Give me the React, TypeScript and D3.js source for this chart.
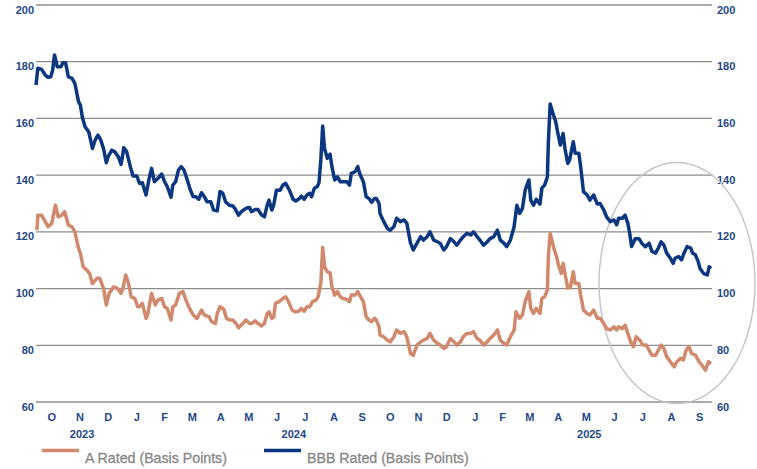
import React from "react";
import * as d3 from "d3";

const bbbSeries: [string, number][] = [
["2023-10-01",171.8],["2023-10-03",177.7],["2023-10-07",177.3],["2023-10-11",175.3],["2023-10-14",174.5],["2023-10-17",174.7],["2023-10-19",177.0],["2023-10-21",182.4],["2023-10-24",178.2],["2023-10-28",178.2],["2023-10-30",179.6],["2023-11-02",179.6],["2023-11-05",174.7],["2023-11-09",174.1],["2023-11-12",172.4],["2023-11-16",165.9],["2023-11-18",164.7],["2023-11-20",160.6],["2023-11-23",157.1],["2023-11-27",155.3],["2023-11-29",152.4],["2023-12-01",149.4],["2023-12-04",152.4],["2023-12-07",154.1],["2023-12-10",152.4],["2023-12-13",149.4],["2023-12-16",144.4],["2023-12-18",146.5],["2023-12-22",148.8],["2023-12-25",148.3],["2023-12-29",146.5],["2024-01-01",143.8],["2024-01-02",145.6],["2024-01-04",149.7],["2024-01-07",148.3],["2024-01-11",143.0],["2024-01-14",139.7],["2024-01-18",139.7],["2024-01-21",137.1],["2024-01-24",137.3],["2024-01-28",133.0],["2024-01-31",138.3],["2024-02-03",142.4],["2024-02-06",137.7],["2024-02-10",138.9],["2024-02-14",140.4],["2024-02-17",137.7],["2024-02-20",135.9],["2024-02-24",132.2],["2024-02-26",136.5],["2024-02-29",137.7],["2024-03-03",141.8],["2024-03-06",143.0],["2024-03-09",141.8],["2024-03-12",138.9],["2024-03-16",134.7],["2024-03-19",132.4],["2024-03-22",132.4],["2024-03-25",131.5],["2024-03-28",133.8],["2024-03-31",132.4],["2024-04-03",130.6],["2024-04-07",130.6],["2024-04-10",127.7],["2024-04-14",127.4],["2024-04-17",134.2],["2024-04-20",133.6],["2024-04-23",130.6],["2024-04-27",129.4],["2024-05-01",129.1],["2024-05-03",128.3],["2024-05-07",125.9],["2024-05-10",127.1],["2024-05-15",128.3],["2024-05-19",128.6],["2024-05-21",127.1],["2024-05-25",127.9],["2024-05-28",127.9],["2024-06-01",125.9],["2024-06-04",125.3],["2024-06-07",129.4],["2024-06-09",131.2],["2024-06-12",127.7],["2024-06-14",129.4],["2024-06-17",134.7],["2024-06-21",134.7],["2024-06-24",136.5],["2024-06-27",137.1],["2024-07-01",134.7],["2024-07-05",131.5],["2024-07-08",130.9],["2024-07-12",131.8],["2024-07-14",132.6],["2024-07-17",131.5],["2024-07-20",133.0],["2024-07-23",133.6],["2024-07-25",132.4],["2024-07-28",135.4],["2024-07-31",135.9],["2024-08-02",137.3],["2024-08-04",145.3],["2024-08-06",157.3],["2024-08-08",149.4],["2024-08-11",145.9],["2024-08-14",147.4],["2024-08-16",143.0],["2024-08-19",138.3],["2024-08-22",139.4],["2024-08-25",137.7],["2024-08-28",137.7],["2024-09-01",137.7],["2024-09-04",136.5],["2024-09-06",140.6],["2024-09-10",141.2],["2024-09-13",143.0],["2024-09-15",140.6],["2024-09-19",137.7],["2024-09-22",132.4],["2024-09-25",131.8],["2024-09-28",130.4],["2024-10-01",131.8],["2024-10-03",131.8],["2024-10-06",130.0],["2024-10-07",126.5],["2024-10-11",123.6],["2024-10-15",121.2],["2024-10-18",120.6],["2024-10-22",121.8],["2024-10-25",124.8],["2024-10-29",123.6],["2024-11-02",124.2],["2024-11-05",123.0],["2024-11-09",116.0],["2024-11-12",113.6],["2024-11-16",116.0],["2024-11-20",118.3],["2024-11-23",117.1],["2024-11-27",118.3],["2024-11-30",120.0],["2024-12-04",117.1],["2024-12-08",116.5],["2024-12-11",116.0],["2024-12-15",113.6],["2024-12-18",114.8],["2024-12-22",117.6],["2024-12-26",116.5],["2024-12-29",115.3],["2025-01-02",117.1],["2025-01-05",118.3],["2025-01-09",119.5],["2025-01-13",118.9],["2025-01-16",120.0],["2025-01-20",118.3],["2025-01-23",117.1],["2025-01-27",115.3],["2025-01-31",116.5],["2025-02-03",117.6],["2025-02-07",118.3],["2025-02-11",120.6],["2025-02-14",117.1],["2025-02-18",116.0],["2025-02-21",114.8],["2025-02-25",117.1],["2025-03-01",121.8],["2025-03-04",129.4],["2025-03-07",126.5],["2025-03-10",128.3],["2025-03-13",134.7],["2025-03-17",138.3],["2025-03-19",131.2],["2025-03-22",129.4],["2025-03-25",131.5],["2025-03-29",129.8],["2025-03-31",135.4],["2025-04-03",136.5],["2025-04-06",139.4],["2025-04-07",151.2],["2025-04-09",165.1],["2025-04-12",161.8],["2025-04-15",158.8],["2025-04-17",155.3],["2025-04-20",150.6],["2025-04-23",154.7],["2025-04-25",149.4],["2025-04-28",144.1],["2025-04-30",145.3],["2025-05-04",151.8],["2025-05-06",147.7],["2025-05-10",147.7],["2025-05-12",143.0],["2025-05-15",134.2],["2025-05-19",133.0],["2025-05-22",131.2],["2025-05-26",133.0],["2025-05-30",129.8],["2025-06-02",130.0],["2025-06-06",127.7],["2025-06-09",125.3],["2025-06-13",123.6],["2025-06-17",124.2],["2025-06-20",122.5],["2025-06-22",124.8],["2025-06-26",124.8],["2025-06-29",125.9],["2025-07-02",123.0],["2025-07-04",119.5],["2025-07-06",114.8],["2025-07-10",117.6],["2025-07-14",117.6],["2025-07-17",116.0],["2025-07-21",114.8],["2025-07-25",116.0],["2025-07-28",113.1],["2025-08-01",112.5],["2025-08-04",114.3],["2025-08-07",116.5],["2025-08-10",115.3],["2025-08-13",112.5],["2025-08-17",110.7],["2025-08-20",108.9],["2025-08-22",110.7],["2025-08-26",111.3],["2025-08-29",110.1],["2025-08-31",111.9],["2025-09-04",114.8],["2025-09-08",114.3],["2025-09-10",112.5],["2025-09-13",111.9],["2025-09-16",109.6],["2025-09-18",107.1],["2025-09-22",105.3],["2025-09-26",104.8],["2025-09-28",107.7],["2025-09-30",107.1]
];

const aSeries: [string, number][] = [
["2023-10-02",120.6],["2023-10-03",125.9],["2023-10-07",125.9],["2023-10-11",123.6],["2023-10-14",121.8],["2023-10-18",123.0],["2023-10-22",129.4],["2023-10-25",125.3],["2023-10-29",125.9],["2023-11-01",127.1],["2023-11-05",122.4],["2023-11-09",121.8],["2023-11-12",120.0],["2023-11-16",114.2],["2023-11-18",112.4],["2023-11-21",107.7],["2023-11-25",106.5],["2023-11-28",105.3],["2023-12-01",101.8],["2023-12-06",103.6],["2023-12-09",103.6],["2023-12-13",100.1],["2023-12-16",94.2],["2023-12-19",98.3],["2023-12-24",100.6],["2023-12-28",100.1],["2024-01-01",98.3],["2024-01-03",100.1],["2024-01-06",104.8],["2024-01-09",101.8],["2024-01-12",97.1],["2024-01-16",96.5],["2024-01-19",93.6],["2024-01-21",93.6],["2024-01-24",94.8],["2024-01-28",89.5],["2024-01-30",91.2],["2024-02-03",98.3],["2024-02-07",94.2],["2024-02-10",96.0],["2024-02-14",96.5],["2024-02-17",93.6],["2024-02-20",93.0],["2024-02-24",88.9],["2024-02-26",93.6],["2024-02-29",94.2],["2024-03-04",98.3],["2024-03-08",98.9],["2024-03-11",96.0],["2024-03-15",93.0],["2024-03-19",90.7],["2024-03-23",89.5],["2024-03-26",91.2],["2024-03-28",92.4],["2024-03-31",90.7],["2024-04-03",90.3],["2024-04-05",90.1],["2024-04-08",88.3],["2024-04-12",87.7],["2024-04-14",91.2],["2024-04-17",93.6],["2024-04-21",92.7],["2024-04-24",89.5],["2024-04-28",88.9],["2024-05-01",88.9],["2024-05-05",87.4],["2024-05-07",86.2],["2024-05-10",87.1],["2024-05-15",88.9],["2024-05-19",87.7],["2024-05-21",87.7],["2024-05-25",88.6],["2024-05-28",87.7],["2024-06-01",86.8],["2024-06-04",87.7],["2024-06-07",91.2],["2024-06-09",91.8],["2024-06-12",89.5],["2024-06-14",89.9],["2024-06-16",94.8],["2024-06-20",95.4],["2024-06-24",96.5],["2024-06-27",97.1],["2024-06-30",95.4],["2024-07-04",92.4],["2024-07-07",91.8],["2024-07-11",92.0],["2024-07-14",93.0],["2024-07-17",92.0],["2024-07-20",93.6],["2024-07-23",93.6],["2024-07-26",95.4],["2024-07-30",96.0],["2024-08-01",97.1],["2024-08-04",101.8],["2024-08-06",114.5],["2024-08-08",107.7],["2024-08-11",105.9],["2024-08-14",105.6],["2024-08-16",100.6],["2024-08-19",97.7],["2024-08-22",98.9],["2024-08-25",97.1],["2024-08-28",96.5],["2024-09-01",96.2],["2024-09-04",95.4],["2024-09-06",97.7],["2024-09-10",97.7],["2024-09-13",98.9],["2024-09-15",97.7],["2024-09-19",95.4],["2024-09-22",90.1],["2024-09-25",88.9],["2024-09-28",88.3],["2024-10-01",89.5],["2024-10-03",88.9],["2024-10-06",86.5],["2024-10-07",83.6],["2024-10-11",83.0],["2024-10-15",81.8],["2024-10-18",81.2],["2024-10-22",83.0],["2024-10-25",85.4],["2024-10-29",84.2],["2024-11-02",84.8],["2024-11-05",83.0],["2024-11-09",77.1],["2024-11-12",76.5],["2024-11-16",80.1],["2024-11-20",81.2],["2024-11-23",81.8],["2024-11-27",82.4],["2024-11-30",84.2],["2024-12-04",81.8],["2024-12-08",80.7],["2024-12-11",80.1],["2024-12-15",78.9],["2024-12-18",79.5],["2024-12-22",82.4],["2024-12-26",81.2],["2024-12-29",80.1],["2025-01-02",81.2],["2025-01-05",83.0],["2025-01-09",84.2],["2025-01-13",84.2],["2025-01-16",84.8],["2025-01-20",82.4],["2025-01-23",81.8],["2025-01-27",80.1],["2025-01-31",81.2],["2025-02-03",82.4],["2025-02-07",83.6],["2025-02-11",85.4],["2025-02-14",81.8],["2025-02-18",80.7],["2025-02-21",80.1],["2025-02-25",83.0],["2025-03-01",85.4],["2025-03-03",91.8],["2025-03-07",89.5],["2025-03-10",90.7],["2025-03-13",95.4],["2025-03-17",98.9],["2025-03-19",93.0],["2025-03-22",91.2],["2025-03-25",93.0],["2025-03-29",91.2],["2025-03-31",96.5],["2025-04-03",97.1],["2025-04-06",99.5],["2025-04-07",111.2],["2025-04-09",119.5],["2025-04-13",114.2],["2025-04-16",111.2],["2025-04-18",108.3],["2025-04-21",105.3],["2025-04-23",108.9],["2025-04-25",105.3],["2025-04-28",100.1],["2025-05-01",100.6],["2025-05-04",105.9],["2025-05-06",101.8],["2025-05-10",101.8],["2025-05-12",97.7],["2025-05-15",92.4],["2025-05-19",91.2],["2025-05-22",90.7],["2025-05-26",92.4],["2025-05-30",89.5],["2025-06-02",89.5],["2025-06-06",87.7],["2025-06-09",85.9],["2025-06-13",85.4],["2025-06-17",86.5],["2025-06-20",85.4],["2025-06-22",86.5],["2025-06-26",85.9],["2025-06-29",87.1],["2025-07-02",84.2],["2025-07-05",81.2],["2025-07-08",79.5],["2025-07-11",83.0],["2025-07-15",81.8],["2025-07-18",80.1],["2025-07-22",80.1],["2025-07-25",78.3],["2025-07-28",76.5],["2025-08-01",76.5],["2025-08-04",78.3],["2025-08-07",80.1],["2025-08-10",78.9],["2025-08-13",76.0],["2025-08-17",74.2],["2025-08-21",72.4],["2025-08-24",74.2],["2025-08-28",75.4],["2025-08-31",74.8],["2025-09-03",78.3],["2025-09-06",79.5],["2025-09-09",77.1],["2025-09-13",76.5],["2025-09-17",74.2],["2025-09-20",73.0],["2025-09-24",71.2],["2025-09-27",74.2],["2025-09-30",73.6]
];

const yTicks = [60, 80, 100, 120, 140, 160, 180, 200];
const monthLabels = ["O","N","D","J","F","M","A","M","J","J","A","S","O","N","D","J","F","M","A","M","J","J","A","S"];
const yearLabels = [
  { label: "2023", start: "2023-10-01", end: "2024-01-01" },
  { label: "2024", start: "2024-01-01", end: "2025-01-01" },
  { label: "2025", start: "2025-01-01", end: "2025-10-01" },
];
const legendItems = [
  { label: "A Rated (Basis Points)", color: "#d0896c" },
  { label: "BBB Rated (Basis Points)", color: "#0b3781" },
];
const domainStart = "2023-10-01";
const domainEnd = "2025-10-01";

const W = 757;
const H = 469;
const LEFT = 36;
const RIGHT = 712;
const TOP = 5;
const BOTTOM = 402;
const TICK_COLOR = "#1f4888";
const FONT = "'Liberation Sans', Arial, sans-serif";

export default function App() {
  const parse = d3.utcParse("%Y-%m-%d");
  const x = d3.scaleUtc().domain([parse(domainStart)!, parse(domainEnd)!]).range([LEFT, RIGHT]);
  const y = d3.scaleLinear().domain([60, 200]).range([BOTTOM, TOP]);
  const line = d3
    .line<[string, number]>()
    .x((d) => x(parse(d[0])!))
    .y((d) => y(d[1]));

  const months = d3.utcMonth.range(parse(domainStart)!, parse(domainEnd)!);

  return (
    <svg
      width={W}
      height={H}
      style={{ position: "absolute", left: 0, top: 0, background: "#fff" }}
      fontFamily={FONT}
    >
      {yTicks.map((t) => (
        <line key={t} x1={LEFT} x2={RIGHT} y1={y(t)} y2={y(t)} stroke="#8e8e8e" strokeWidth={1.3} />
      ))}
      {yTicks.map((t) => (
        <g key={"l" + t}>
          <text x={LEFT - 2} y={y(t) + 8.5} textAnchor="end" fontSize={11} fontWeight="bold" fill={TICK_COLOR}>
            {t}
          </text>
          <text x={RIGHT + 5} y={y(t) + 8.5} textAnchor="start" fontSize={11} fontWeight="bold" fill={TICK_COLOR}>
            {t}
          </text>
        </g>
      ))}
      {months.map((m, i) => {
        const next = d3.utcMonth.offset(m, 1);
        const cx = (x(m) + x(next)) / 2 + 1.5;
        return (
          <text key={"m" + i} x={cx} y={421} textAnchor="middle" fontSize={11} fontWeight="bold" fill={TICK_COLOR}>
            {monthLabels[i]}
          </text>
        );
      })}
      {yearLabels.map((yl) => (
        <text
          key={yl.label}
          x={(x(parse(yl.start)!) + x(parse(yl.end)!)) / 2 + 3.5}
          y={438}
          textAnchor="middle"
          fontSize={11}
          fontWeight="bold"
          fill={TICK_COLOR}
        >
          {yl.label}
        </text>
      ))}
      <ellipse cx={677} cy={283} rx={78} ry={120.5} fill="none" stroke="#c4c4c4" strokeWidth={1.4} />
      <path d={line(aSeries) || ""} fill="none" stroke={legendItems[0].color} strokeWidth={3.5} strokeLinejoin="round" />
      <path d={line(bbbSeries) || ""} fill="none" stroke={legendItems[1].color} strokeWidth={3.5} strokeLinejoin="round" />
      {legendItems.map((it, i) => {
        const lx = i === 0 ? 42 : 264;
        return (
          <g key={it.label}>
            <line x1={lx} x2={lx + 37} y1={450.5} y2={450.5} stroke={it.color} strokeWidth={3.5} />
            <text x={lx + 43} y={463} fontSize={14.2} fill="#878787" stroke="#878787" strokeWidth={0.3}>
              {it.label}
            </text>
          </g>
        );
      })}
    </svg>
  );
}
